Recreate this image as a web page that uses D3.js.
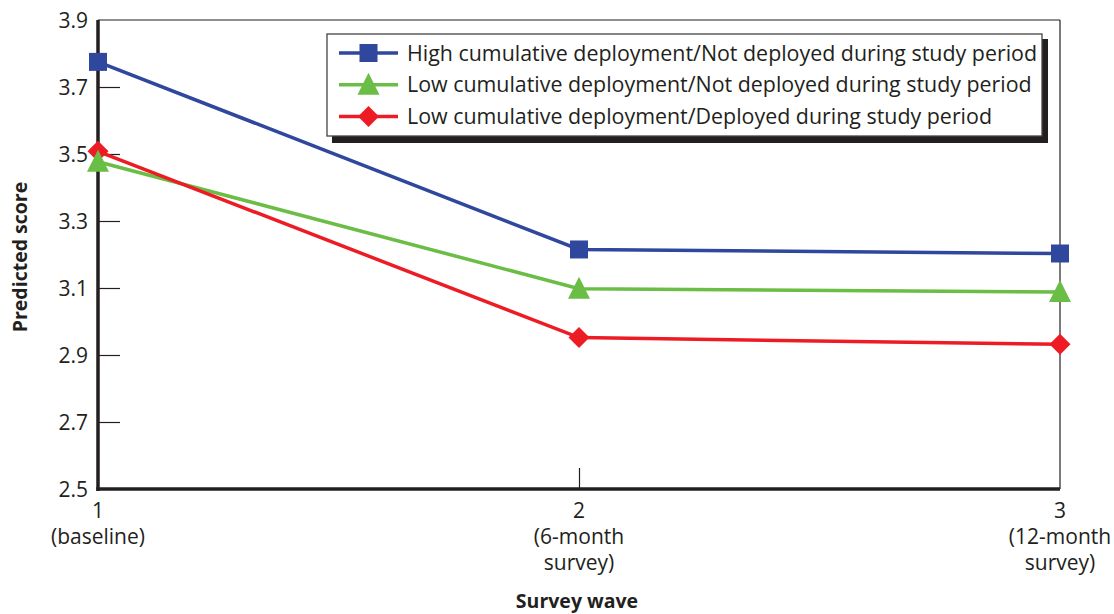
<!DOCTYPE html>
<html><head><meta charset="utf-8">
<script src="https://cdn.jsdelivr.net/npm/d3@7"></script>
<style>
body{margin:0;background:#fff;}
text{font-family:"Open Sans",sans-serif;fill:#231f20;}
</style></head>
<body><svg id="c" width="1114" height="614"></svg>
<script>
const waves = [1, 2, 3];
const waveLabels = [["1","(baseline)"],["2","(6-month","survey)"],["3","(12-month","survey)"]];
const yTicks = [2.5, 2.7, 2.9, 3.1, 3.3, 3.5, 3.7, 3.9];
const seriesNames = [
  "High cumulative deployment/Not deployed during study period",
  "Low cumulative deployment/Not deployed during study period",
  "Low cumulative deployment/Deployed during study period"
];
const highNotDeployed = [3.775, 3.215, 3.203];
const lowNotDeployed = [3.477, 3.098, 3.088];
const lowDeployed = [3.508, 2.952, 2.932];
const seriesColors = ["#2f479c", "#6abd45", "#ed1c24"];
const seriesSymbols = ["square", "triangle", "diamond"];

const svg = d3.select("#c");
const x = d3.scaleLinear().domain([1,3]).range([98,1060]);
const y = d3.scaleLinear().domain([2.5,3.9]).range([489,20]);
const ink = "#231f20";
const fs = "21px";

// frame: top & right thin
svg.append("line").attr("x1",x(1)).attr("x2",x(3)).attr("y1",y(3.9)).attr("y2",y(3.9)).attr("stroke",ink).attr("stroke-width",1.2);
svg.append("line").attr("x1",x(3)).attr("x2",x(3)).attr("y1",y(3.9)).attr("y2",y(2.5)).attr("stroke",ink).attr("stroke-width",1.2);

// y axis
const yAxis = d3.axisRight(y).tickValues(yTicks.filter(v=>v>2.5 && v<3.9)).tickSize(22).tickFormat("");
const ga = svg.append("g").attr("transform",`translate(${x(1)},0)`).call(yAxis);
ga.select(".domain").remove();
ga.selectAll("line").attr("stroke",ink).attr("stroke-width",1.2);
svg.selectAll(".ylab").data(yTicks).join("text").attr("class","ylab")
  .attr("x",88).attr("y",d=>y(d)).attr("dy","0.36em").attr("text-anchor","end")
  .style("font-size",fs).text(d=>d.toFixed(1));

// x ticks (inward at wave 2)
const xAxis = d3.axisTop(x).tickValues([2]).tickSize(21).tickFormat("");
const gx = svg.append("g").attr("transform",`translate(0,${y(2.5)})`).call(xAxis);
gx.select(".domain").remove();
gx.selectAll("line").attr("stroke",ink).attr("stroke-width",1.2);

// thick axes
svg.append("line").attr("x1",x(1)).attr("x2",x(1)).attr("y1",y(3.9)).attr("y2",y(2.5)+2).attr("stroke",ink).attr("stroke-width",3.5);
svg.append("line").attr("x1",x(1)-1.75).attr("x2",x(3)).attr("y1",y(2.5)).attr("y2",y(2.5)).attr("stroke",ink).attr("stroke-width",3.5);

// x labels
waves.forEach((w,i)=>{
  const t = svg.append("text").attr("x",x(w)).attr("y",518).attr("text-anchor","middle").style("font-size",fs);
  waveLabels[i].forEach((s,j)=>t.append("tspan").attr("x",x(w)).attr("dy", j===0?0:25.8).text(s));
});

// axis titles
svg.append("text").attr("x",x(2)-2).attr("y",608).attr("text-anchor","middle").style("font-size","19.5px").style("font-weight","bold").text("Survey wave");
svg.append("text").attr("transform","translate(27,257) rotate(-90)").attr("text-anchor","middle").style("font-size","19.5px").style("font-weight","bold").text("Predicted score");

// series
const allSeries = [highNotDeployed, lowNotDeployed, lowDeployed];
const line = d3.line().x((d,i)=>x(waves[i])).y(d=>y(d));
function drawSymbol(g, type, cx, cy, color){
  if(type==="square"){
    g.append("rect").attr("x",cx-9).attr("y",cy-9).attr("width",18).attr("height",18).attr("fill",color);
  } else if(type==="triangle"){
    g.append("path").attr("d",`M${cx},${cy-12}L${cx+11},${cy+10}L${cx-11},${cy+10}Z`).attr("fill",color);
  } else {
    g.append("path").attr("d",`M${cx},${cy-10.5}L${cx+10.5},${cy}L${cx},${cy+10.5}L${cx-10.5},${cy}Z`).attr("fill",color);
  }
}
allSeries.forEach((vals,k)=>{
  svg.append("path").datum(vals).attr("d",line).attr("fill","none").attr("stroke",seriesColors[k]).attr("stroke-width",3.5);
});
[0,2,1].forEach(k=>{
  allSeries[k].forEach((v,i)=>drawSymbol(svg, seriesSymbols[k], x(waves[i]), y(v), seriesColors[k]));
});

// legend
const lg = svg.append("g");
lg.append("rect").attr("x",332).attr("y",39).attr("width",716).attr("height",104).attr("fill","#231f20");
lg.append("rect").attr("x",327).attr("y",34).attr("width",715).attr("height",102).attr("fill","#fff").attr("stroke","#444").attr("stroke-width",1.3);
seriesNames.forEach((n,k)=>{
  const cy = 53 + k*31.7;
  lg.append("line").attr("x1",339).attr("x2",398).attr("y1",cy).attr("y2",cy).attr("stroke",seriesColors[k]).attr("stroke-width",3.5);
  drawSymbol(lg, seriesSymbols[k], 368.5, cy, seriesColors[k]);
  lg.append("text").attr("x",407).attr("y",cy).attr("dy","0.36em").style("font-size","21.4px").text(n);
});
</script></body></html>
